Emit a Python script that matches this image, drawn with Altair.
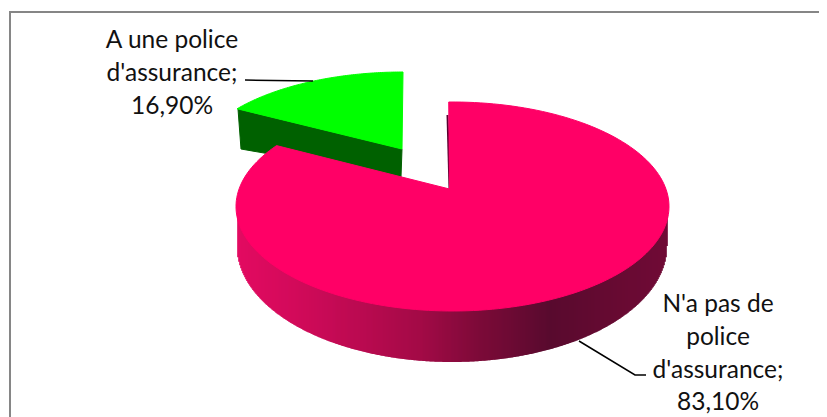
import math
import altair as alt
import pandas as pd

# Values
categories = ["N'a pas de police d'assurance", "A une police d'assurance"]
shares = [83.10, 16.90]
label_lines = [["N'a pas de", "police", "d'assurance;", "83,10%"],
               ["A une police", "d'assurance;", "16,90%"]]
label_anchor_x = [718, 172]
label_line_y = [[305, 338, 371, 403], [41, 74, 107]]
pink, green, green_dark = "#FF0066", "#00FF00", "#006100"
wall_stops = [237, 300, 370, 420, 480, 550, 620, 667]
wall_colors = ["#E2005B", "#CF0053", "#B40048", "#A0003F", "#770030", "#520026", "#62002A", "#6A002E"]

W, H = 811, 409
xs = alt.X("x:Q", scale=alt.Scale(domain=[8, 8 + W], range=[0, W]), axis=None)
ys = alt.Y("y:Q", scale=alt.Scale(domain=[8 + H, 8], range=[H, 0]), axis=None)


def sector(cx, cy, a, b, apex, start, sweep, steps=90):
    pts = [apex]
    for i in range(steps + 1):
        t = math.radians(start + sweep * i / steps)
        pts.append((cx + a * math.sin(t), cy - b * math.cos(t)))
    pts.append(apex)
    return pd.DataFrame([{"i": i, "x": p[0], "y": p[1]} for i, p in enumerate(pts)])


def poly(df, color):
    return alt.Chart(df).mark_line(fill=color, stroke=color, strokeWidth=1, interpolate="linear").encode(
        x=xs, y=ys, order="i:Q")


def path(points, color, width):
    df = pd.DataFrame([{"i": i, "x": p[0], "y": p[1]} for i, p in enumerate(points)])
    return alt.Chart(df).mark_line(color=color, strokeWidth=width).encode(x=xs, y=ys, order="i:Q")


# Exploded slices; the sweep includes the chart's perspective distortion
pink_sweep = shares[0] * 3.6 * 1.025
green_sweep = shares[1] * 3.6 * 0.858
pink_top = sector(452.5, 206.5, 216.5, 104.5, (449.5, 189), -1, pink_sweep, 180)
green_top = sector(403, 167, 210, 95, (402, 149), -green_sweep, green_sweep)
green_wall = pd.DataFrame({"i": range(5), "x": [238, 241, 401, 402, 238], "y": [109, 149, 177, 149, 109]})

wall_rows = []
for px in range(238, 668):
    u = (px - 452) / 215
    wall_rows.append({"x": px, "y": 206, "y2": 246 + 116 * math.sqrt(max(0, 1 - u * u))})
wall = alt.Chart(pd.DataFrame(wall_rows)).mark_rule(strokeWidth=1.6).encode(
    x=xs, y=ys, y2="y2:Q",
    color=alt.Color("x:Q", legend=None,
                    scale=alt.Scale(domain=wall_stops, range=wall_colors, interpolate="rgb")))

sliver = path([(447.5, 115), (449.5, 189)], "#5A0030", 2)
frame = path([(10, 417), (10, 12), (819, 12)], "#868686", 2)

leader_a = path([(245, 80), (313, 81)], "#000000", 1.5)
leader_b = path([(579, 341), (635, 375), (646, 375)], "#000000", 1.5)

text_rows = []
for lines, ax, ly in zip(label_lines, label_anchor_x, label_line_y):
    for line, y in zip(lines, ly):
        text_rows.append({"x": ax, "y": y, "t": line})
labels = alt.Chart(pd.DataFrame(text_rows)).mark_text(
    font="Lato", fontSize=24.5, color="#111111", align="center", baseline="middle"
).encode(x=xs, y=ys, text="t:N")

chart = alt.layer(
    frame, poly(green_wall, green_dark), poly(green_top, green), wall, sliver, poly(pink_top, pink),
    leader_a, leader_b, labels
).resolve_scale(color="independent").properties(
    width=W, height=H, padding=0, autosize=alt.AutoSizeParams(type="none"),
    background="white"
).configure_view(stroke=None)

chart.save("out.html", embed_options={"renderer": "svg", "actions": False})
